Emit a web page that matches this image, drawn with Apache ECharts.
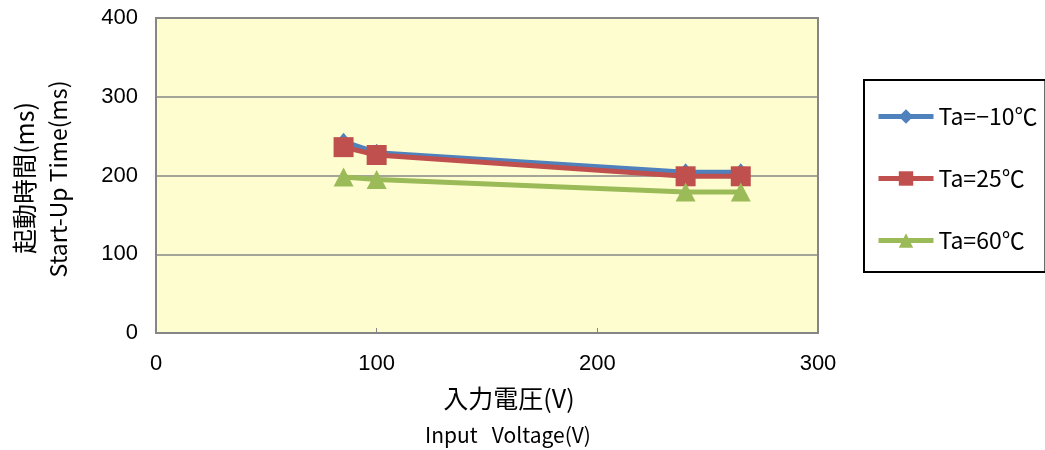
<!DOCTYPE html>
<html>
<head>
<meta charset="utf-8">
<script src="https://cdn.jsdelivr.net/npm/echarts@6/dist/echarts.min.js"></script>
<style>
  html, body { margin: 0; padding: 0; background: #fff; }
  #main { width: 1045px; height: 450px; }
</style>
</head>
<body>
<div id="main"></div>
<script>
// 入力電圧 (V)
var voltages = [85, 100, 240, 265];
// 起動時間 (ms)
var tMinus10 = [243, 229, 204, 204];
var t25 = [236, 226, 199, 199];
var t60 = [198, 195, 179, 179];
var seriesNames = ['Ta=−10℃', 'Ta=25℃', 'Ta=60℃'];

function pairs(ys) {
  return voltages.map(function (v, i) { return [v, ys[i]]; });
}

var font = '"Noto Sans CJK JP", "Liberation Sans", sans-serif';
var numFont = '"Liberation Sans", Arial, sans-serif';
var chart = echarts.init(document.getElementById('main'));

chart.setOption({
  animation: false,
  textStyle: { fontFamily: font },
  grid: {
    left: 156, right: 227, top: 18, bottom: 117,
    show: true, backgroundColor: '#FEFDCF',
    borderColor: '#868686', borderWidth: 2
  },
  legend: {
    orient: 'vertical',
    left: 864, top: 80,
    padding: [25, 8, 20, 12],
    itemGap: 39,
    itemWidth: 55, itemHeight: 18,
    borderColor: '#000', borderWidth: 2,
    lineStyle: { width: 5 },
    textStyle: { fontSize: 23, color: '#000', fontFamily: font },
    data: seriesNames
  },
  xAxis: {
    type: 'value', min: 0, max: 300, interval: 100,
    axisLine: { show: false },
    axisTick: { show: true, inside: true, length: 5, lineStyle: { color: '#868686' } },
    splitLine: { show: false },
    axisLabel: { fontSize: 22, color: '#000', margin: 20, fontFamily: numFont }
  },
  yAxis: {
    type: 'value', min: 0, max: 400, interval: 100,
    axisLine: { show: false },
    axisTick: { show: false },
    splitLine: { show: true, lineStyle: { color: '#868686', width: 1.5 } },
    axisLabel: { fontSize: 22, color: '#000', margin: 18, fontFamily: numFont }
  },
  graphic: [
    {
      type: 'text', x: 24, y: 178, rotation: Math.PI / 2,
      style: { text: '起動時間(ms)', font: '25px ' + font, fill: '#000', align: 'center', verticalAlign: 'middle' }
    },
    {
      type: 'text', x: 58, y: 179, rotation: Math.PI / 2,
      style: { text: 'Start-Up Time(ms)', font: '23px ' + font, fill: '#000', align: 'center', verticalAlign: 'middle' }
    },
    {
      type: 'text', x: 509, y: 398,
      style: { text: '入力電圧(V)', font: '25px ' + font, fill: '#000', align: 'center', verticalAlign: 'middle' }
    },
    {
      type: 'text', x: 508, y: 435,
      style: { text: 'Input   Voltage(V)', font: '21px ' + font, fill: '#000', align: 'center', verticalAlign: 'middle' }
    }
  ],
  series: [
    {
      name: seriesNames[0], type: 'line', data: pairs(tMinus10),
      symbol: 'diamond', symbolSize: [15, 18],
      itemStyle: { color: '#4F81BD' }, lineStyle: { width: 5, color: '#4F81BD' }
    },
    {
      name: seriesNames[1], type: 'line', data: pairs(t25),
      symbol: 'rect', symbolSize: 20,
      itemStyle: { color: '#C0504D' }, lineStyle: { width: 5, color: '#C0504D' }
    },
    {
      name: seriesNames[2], type: 'line', data: pairs(t60),
      symbol: 'triangle', symbolSize: [20, 19],
      itemStyle: { color: '#9BBB59' }, lineStyle: { width: 5, color: '#9BBB59' }
    }
  ]
});
</script>
</body>
</html>
